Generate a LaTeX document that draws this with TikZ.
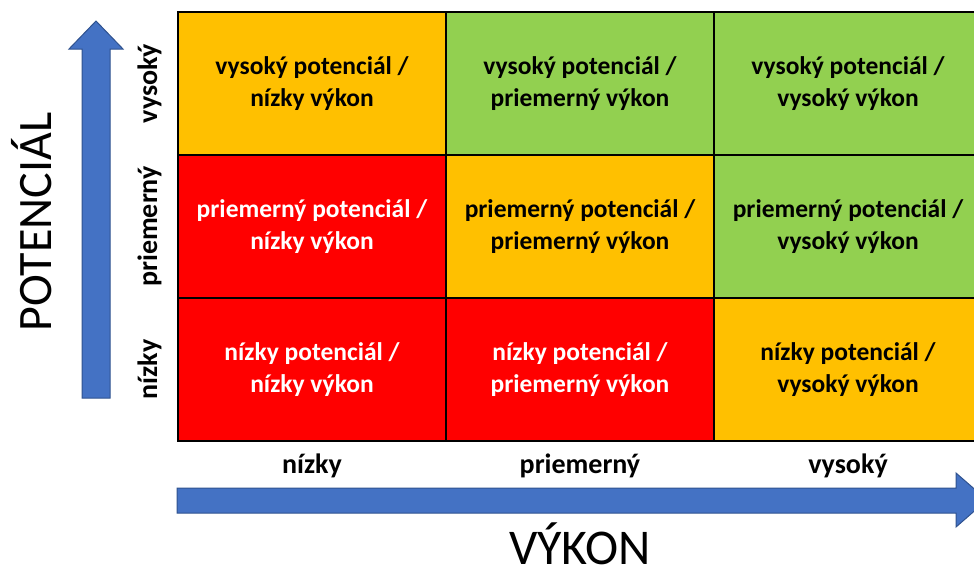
\documentclass[tikz,border=0pt]{standalone}
\usepackage{fontspec}
\setmainfont{Carlito}
\definecolor{cOrange}{HTML}{FFC000}
\definecolor{cGreen}{HTML}{92D050}
\definecolor{cRed}{HTML}{FF0000}
\definecolor{cBlue}{HTML}{4472C4}
\definecolor{cBlueEdge}{HTML}{2F528F}

\begin{document}
\begin{tikzpicture}[x=1pt, y=-1pt,
        cell/.style={draw=black, line width=1.5pt, minimum width=268pt, minimum height=143pt,
                inner sep=0pt, align=center, font=\bfseries\fontsize{25.5}{32}\selectfont},
        lvl/.style={font=\bfseries\fontsize{28}{30}\selectfont, anchor=base, inner sep=0pt},
        axisname/.style={font=\fontsize{48}{50}\selectfont, anchor=base, inner sep=0pt},
        blockarrow/.style={fill=cBlue, draw=cBlueEdge, line width=1pt}]
        \clip (0,0) rectangle (974,570);
        \useasboundingbox (0,0) rectangle (974,570);

        %%%%%%%%%%%%%%%%%%%%%%%%%%%%%%
        \node[cell, fill=cOrange] (hl) at (312,83.5) {vysoký potenciál /\\nízky výkon};
        \node[cell, fill=cGreen] (hm) at (580,83.5) {vysoký potenciál /\\priemerný výkon};
        \node[cell, fill=cGreen] (hh) at (848,83.5) {vysoký potenciál /\\vysoký výkon};

        \node[cell, fill=cRed, text=white] (ml) at (312,226.5) {priemerný potenciál /\\nízky výkon};
        \node[cell, fill=cOrange] (mm) at (580,226.5) {priemerný potenciál /\\priemerný výkon};
        \node[cell, fill=cGreen] (mh) at (848,226.5) {priemerný potenciál /\\vysoký výkon};

        \node[cell, fill=cRed, text=white] (ll) at (312,369.5) {nízky potenciál /\\nízky výkon};
        \node[cell, fill=cRed, text=white] (lm) at (580,369.5) {nízky potenciál /\\priemerný výkon};
        \node[cell, fill=cOrange] (lh) at (848,369.5) {nízky potenciál /\\vysoký výkon};

        %%%%%%%%%%%%%%%%%%%%%%%%%%%%%%
        \node[lvl, rotate=90] (rowh) at (157,83.5) {vysoký};
        \node[lvl, rotate=90] (rowm) at (157,226.5) {priemerný};
        \node[lvl, rotate=90] (rowl) at (157,369.5) {nízky};

        \node[lvl] (coll) at (312,473) {nízky};
        \node[lvl] (colm) at (580,473) {priemerný};
        \node[lvl] (colh) at (848,473) {vysoký};

        %%%%%%%%%%%%%%%%%%%%%%%%%%%%%%
        \filldraw[blockarrow] (82,398) -- (82,49) -- (69,49) -- (96,21) -- (123,49)
                -- (110,49) -- (110,398) -- cycle;
        \filldraw[blockarrow] (177,488) -- (956,488) -- (956,473) -- (987,500)
                -- (956,527) -- (956,513) -- (177,513) -- cycle;

        \node[axisname, rotate=90] (potencial) at (51,222) {POTENCIÁL};
        \node[axisname, font=\fontsize{50}{52}\selectfont] (vykon) at (580,564) {VÝKON};
\end{tikzpicture}
\end{document}
